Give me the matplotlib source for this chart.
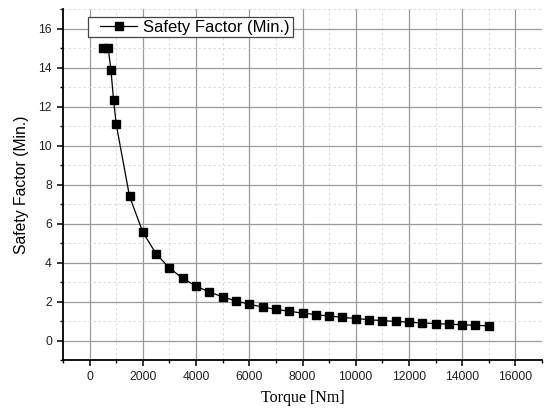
import matplotlib
matplotlib.use("Agg")
import matplotlib.pyplot as plt
import numpy as np
from matplotlib.ticker import MultipleLocator
from matplotlib.legend_handler import HandlerLine2D

torque = [500, 700, 800, 900, 1000, 1500, 2000, 2500, 3000, 3500, 4000, 4500,
          5000, 5500, 6000, 6500, 7000, 7500, 8000, 8500, 9000, 9500, 10000,
          10500, 11000, 11500, 12000, 12500, 13000, 13500, 14000, 14500, 15000]
safety = [15.0, 15.0, 13.9, 12.35, 11.1, 7.4, 5.56, 4.45, 3.72, 3.19, 2.79,
          2.49, 2.24, 2.03, 1.86, 1.72, 1.60, 1.50, 1.41, 1.33, 1.26, 1.19,
          1.13, 1.07, 1.02, 0.98, 0.94, 0.90, 0.87, 0.84, 0.81, 0.78, 0.75]

series_label = "Safety Factor (Min.)"
x_label = "Torque [Nm]"
y_label = "Safety Factor (Min.)"


class PadHandler(HandlerLine2D):
    def get_xdata(self, legend, xdescent, ydescent, width, height, fontsize):
        pad = width * 0.19
        xdata = np.array([-xdescent + pad, -xdescent + width])
        xdata_marker = np.array([-xdescent + pad + 0.5 * (width - pad)])
        return xdata, xdata_marker


fig = plt.figure(figsize=(5.47, 4.12), dpi=100)
ax = fig.add_axes([63/547, 52/412, (542-63)/547, (360-9.3)/412])

line, = ax.plot(torque, safety, color="black", lw=0.9, marker="s", markersize=5.5,
                markerfacecolor="black", markeredgecolor="black",
                label=series_label, zorder=3)

ax.set_xlim(-1000, 17000)
ax.set_ylim(-1, 17)
ax.xaxis.set_major_locator(MultipleLocator(2000))
ax.xaxis.set_minor_locator(MultipleLocator(1000))
ax.yaxis.set_major_locator(MultipleLocator(2))
ax.yaxis.set_minor_locator(MultipleLocator(1))

ax.grid(which="major", color="#9a9a9a", lw=0.9, ls="-")
ax.grid(which="minor", color="#d4d4d4", lw=0.6, ls=(0, (3, 3)))
ax.set_axisbelow(True)

for s in ["top", "right"]:
    ax.spines[s].set_visible(False)
for s in ["left", "bottom"]:
    ax.spines[s].set_linewidth(1.3)
    ax.spines[s].set_color("black")

ax.tick_params(which="major", direction="out", length=4, width=1.1, pad=4,
               labelsize=8.7)
ax.tick_params(which="minor", direction="out", length=2.5, width=1.0)
for lab in ax.get_xticklabels() + ax.get_yticklabels():
    lab.set_fontfamily("Liberation Sans")
    lab.set_color("#222222")

ax.set_xlabel(x_label, fontfamily="Liberation Serif", fontsize=11.5, labelpad=5)
ax.set_ylabel(y_label, fontfamily="Liberation Sans", fontsize=11.3, labelpad=7)

leg = ax.legend(handles=[line], loc="upper left", bbox_to_anchor=(0.0528, 0.977),
                frameon=True, fancybox=False,
                prop={"family": "Liberation Sans", "size": 12},
                borderpad=0.15, handlelength=2.8, handletextpad=0.36,
                borderaxespad=0.0, handler_map={line: PadHandler()})
leg.get_frame().set_edgecolor("#444444")
leg.get_frame().set_linewidth(0.9)
leg.get_frame().set_facecolor("white")
leg.get_frame().set_alpha(1)

fig.savefig("out.png", dpi=100)
